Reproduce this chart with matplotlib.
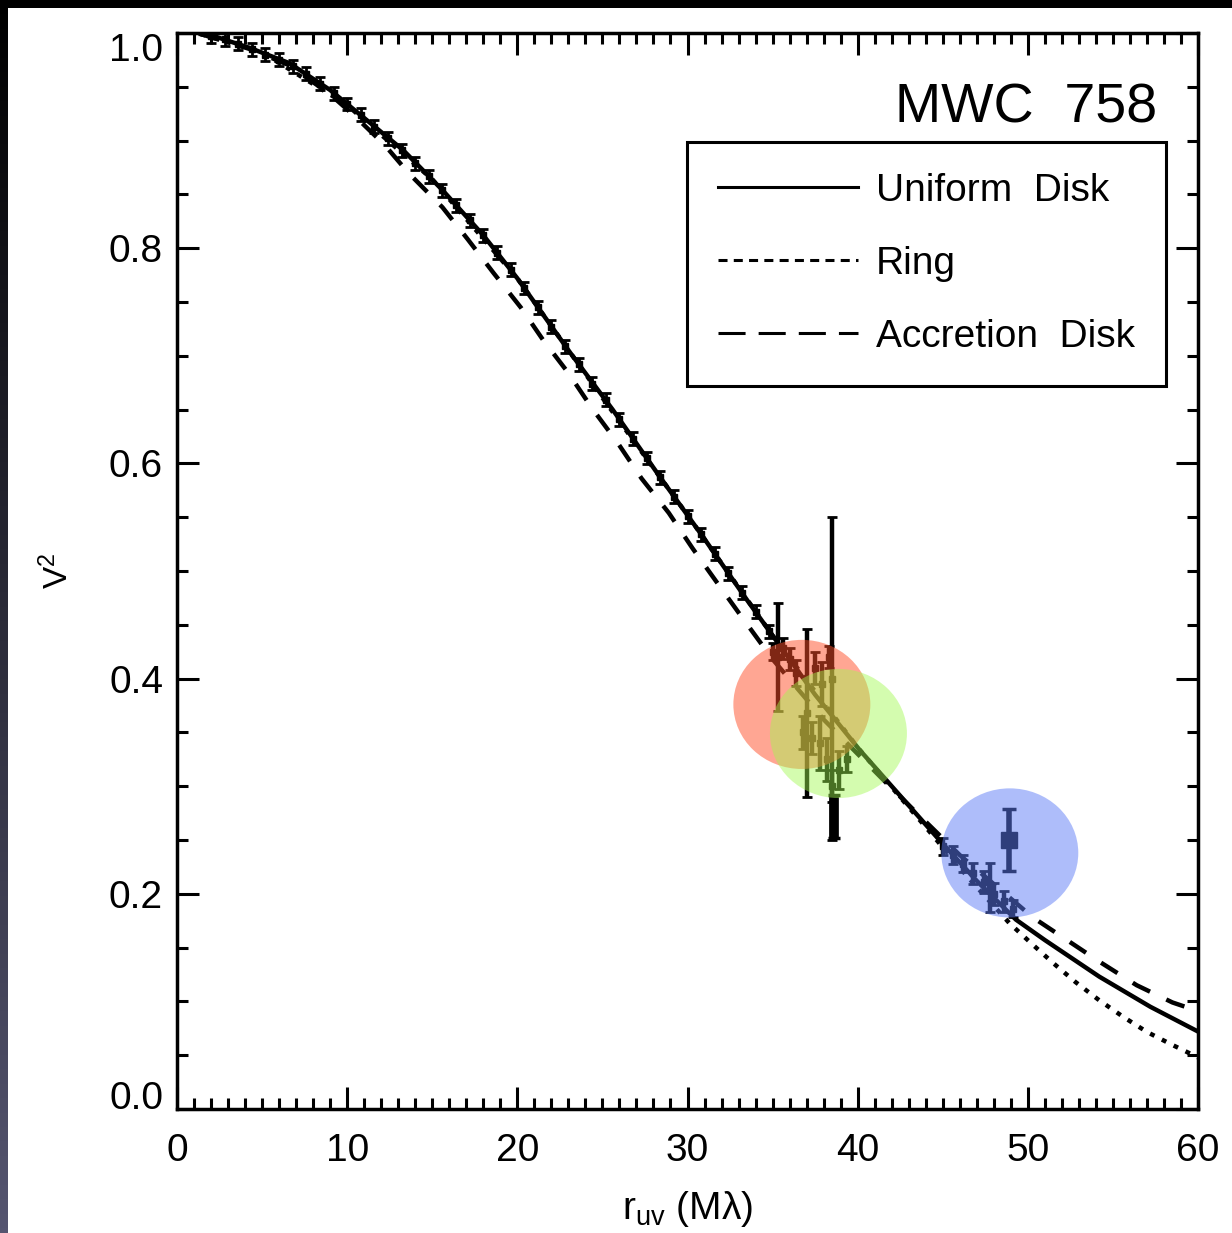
import matplotlib
matplotlib.use('Agg')
import matplotlib.pyplot as plt
from matplotlib.patches import Ellipse, Rectangle
from matplotlib.lines import Line2D
from matplotlib.ticker import MultipleLocator
import numpy as np

plt.rcParams['font.family'] = ['Liberation Sans', 'DejaVu Sans']
plt.rcParams['mathtext.fontset'] = 'custom'
plt.rcParams['mathtext.rm'] = 'Liberation Sans'
plt.rcParams['mathtext.it'] = 'Liberation Sans'
plt.rcParams['lines.scale_dashes'] = False

# model curves: r_uv (Mlambda) vs V^2
ud_r = [1.4, 2.0, 4.3, 6.6, 9.0, 11.0, 13.3, 15.6, 18.0, 20.0, 23.1, 25.6, 28.4,
        30.9, 33.5, 35.0, 37.5, 40.1, 42.0, 44.8, 47.0, 49.3, 51.0, 54.2, 57.2, 60.0]
ud_v2 = [0.999, 0.998, 0.986, 0.972, 0.947, 0.921, 0.891, 0.854, 0.812, 0.772, 0.703, 0.650, 0.587,
         0.532, 0.473, 0.440, 0.385, 0.334, 0.300, 0.250, 0.212, 0.176, 0.157, 0.123, 0.095, 0.072]

ring_r = [1.4, 5.0, 10.0, 15.0, 20.0, 25.0, 30.0, 35.0, 40.0, 44.0, 46.5, 48.9,
          50.2, 51.5, 52.8, 54.2, 55.6, 57.0, 58.5, 60.0]
ring_v2 = [0.999, 0.982, 0.933, 0.864, 0.772, 0.661, 0.552, 0.440, 0.336, 0.262, 0.215, 0.173,
           0.154, 0.1355, 0.118, 0.101, 0.0857, 0.0716, 0.0595, 0.048]

acc_r = [1.4, 4.3, 6.6, 9.0, 10.5, 12.2, 13.6, 15.6, 17.1, 18.6, 20.2, 21.5, 23.0, 24.4,
         25.9, 27.3, 28.9, 30.3, 31.7, 33.2, 35.0, 38.0, 42.0, 46.0, 50.3, 52.3, 54.2,
         56.4, 58.5, 60.0]
acc_v2 = [0.999, 0.985, 0.970, 0.943, 0.922, 0.896, 0.870, 0.838, 0.808, 0.777, 0.745, 0.715,
          0.684, 0.651, 0.619, 0.586, 0.554, 0.521, 0.490, 0.457, 0.418, 0.362, 0.298, 0.236,
          0.178, 0.157, 0.137, 0.115, 0.099, 0.091]

# measured V^2 along the curve (small errors)
obs_r = [2.0, 2.8, 3.6, 4.4, 5.2, 6.0, 6.8, 7.6, 8.4, 9.2, 10.0, 10.8, 11.6, 12.4, 13.2,
         14.0, 14.8, 15.6, 16.4, 17.2, 18.0, 18.8, 19.6, 20.4, 21.2, 22.0, 22.8, 23.6,
         24.4, 25.2, 26.0, 26.8, 27.6, 28.4, 29.2, 30.0, 30.8, 31.6, 32.4, 33.2, 34.0, 34.8]
obs_v2 = [0.997, 0.994, 0.990, 0.985, 0.980, 0.975, 0.969, 0.962, 0.953, 0.944, 0.934, 0.924,
          0.913, 0.902, 0.891, 0.879, 0.867, 0.854, 0.840, 0.826, 0.812, 0.796, 0.780, 0.763,
          0.745, 0.727, 0.709, 0.692, 0.674, 0.659, 0.641, 0.623, 0.605, 0.587, 0.569, 0.551,
          0.534, 0.516, 0.498, 0.480, 0.462, 0.444]
obs_err = [0.006] * len(obs_r)

# noisier points around 35-39 and 45-49 Mlambda
nz_r = [35.0, 35.3, 35.6, 36.0, 36.4, 37.0, 37.5, 37.9, 38.3, 36.8, 37.3, 37.8, 38.2, 38.5,
        38.9, 39.4, 38.5, 45.0, 45.6, 46.2, 46.8, 47.4, 47.8, 48.0, 48.6, 49.1]
nz_v2 = [0.425, 0.420, 0.428, 0.418, 0.405, 0.368, 0.410, 0.395, 0.420, 0.350, 0.345, 0.340,
         0.325, 0.400, 0.315, 0.325, 0.300, 0.244, 0.236, 0.228, 0.219, 0.211, 0.206,
         0.200, 0.193, 0.186]
nz_err = [0.008, 0.050, 0.010, 0.010, 0.012, 0.078, 0.015, 0.020, 0.010, 0.015, 0.015, 0.025,
          0.020, 0.150, 0.018, 0.012, 0.015, 0.008, 0.008, 0.008, 0.010, 0.010, 0.023,
          0.010, 0.010, 0.008]

# heavier points (thick blobs)
big_r = [48.9]
big_v2 = [0.250]
big_err = [0.029]
thick_r = [38.6]
thick_v2 = [0.272]
thick_err = [0.020]

# highlight circles (centre r, centre V^2, colour)
hl_r = [36.72, 38.87, 48.94]
hl_v2 = [0.376, 0.349, 0.238]
hl_colors = [(1.0, 0.31, 0.16), (0.63, 0.98, 0.31), (0.37, 0.49, 0.97)]
hl_alpha = [0.5, 0.45, 0.5]

legend_labels = ['Uniform  Disk', 'Ring', 'Accretion  Disk']

fig = plt.figure(figsize=(12.32, 12.33), dpi=100, facecolor='white')
ax = fig.add_axes([177 / 1232, 1 - 1109 / 1233, 1021 / 1232, 1076 / 1233])

ax.plot(ud_r, ud_v2, color='k', lw=3.2, zorder=2)
ax.plot(ring_r, ring_v2, color='k', lw=3.2, dashes=(3.5, 6), zorder=2)
ax.plot(acc_r, acc_v2, color='k', lw=3.2, dashes=(14, 13), zorder=2)

ax.errorbar(obs_r, obs_v2, yerr=obs_err, fmt='s', color='k', ms=4, elinewidth=2,
            capsize=3.5, capthick=2, zorder=3)
ax.errorbar(nz_r, nz_v2, yerr=nz_err, fmt='s', color='k', ms=4, elinewidth=3.2,
            capsize=3.5, capthick=2, zorder=3)
ax.errorbar(big_r, big_v2, yerr=big_err, fmt='s', color='k', ms=11, elinewidth=4,
            capsize=5, capthick=2.5, zorder=3)
ax.errorbar(thick_r, thick_v2, yerr=thick_err, fmt='none', ecolor='k', elinewidth=7,
            capsize=4, capthick=2.5, zorder=3)

for cx, cy, c, a in zip(hl_r, hl_v2, hl_colors, hl_alpha):
    ax.add_patch(Ellipse((cx, cy), width=8.05, height=0.12, facecolor=c, edgecolor='none',
                         alpha=a, zorder=4))

ax.set_xlim(0, 60)
ax.set_ylim(0, 1.0)
ax.set_xticks(np.arange(0, 61, 10))
ax.set_xticklabels([str(v) for v in range(0, 61, 10)])
ax.set_yticks(np.arange(0, 1.01, 0.2))
ax.set_yticklabels(['%.1f' % v for v in np.arange(0, 1.01, 0.2)])
ax.xaxis.set_minor_locator(MultipleLocator(1))
ax.yaxis.set_minor_locator(MultipleLocator(0.05))
ax.tick_params(which='both', direction='in', top=True, right=True, width=2.2, color='k')
ax.tick_params(which='major', length=16)
ax.tick_params(which='minor', length=8)
ax.tick_params(axis='x', labelsize=28, pad=17)
ax.tick_params(axis='y', labelsize=28, pad=10)
for s in ax.spines.values():
    s.set_linewidth(2.5)

ylabs = ax.get_yticklabels()
ylabs[0].set_va('baseline')
ylabs[-1].set_va('top')

ax.set_xlabel(r'r$_{\mathrm{uv}}$ (Mλ)', fontsize=28)
ax.xaxis.set_label_coords(0.5, -0.074)
ax.xaxis.label.set_va('top')
ax.set_ylabel(r'V$^{2}$', fontsize=24)
ax.yaxis.set_label_coords(-0.1, 0.5)

ax.text(0.9598, 0.9164, 'MWC  758', transform=ax.transAxes, ha='right', va='baseline',
        fontsize=40)

handles = [Line2D([], [], color='k', lw=2.2),
           Line2D([], [], color='k', lw=2.2, dashes=(6.5, 4.5)),
           Line2D([], [], color='k', lw=2.2, dashes=(19.5, 9.4))]
leg = ax.legend(handles, legend_labels, loc='upper left', bbox_to_anchor=(0.4995, 0.8987),
                borderaxespad=0, fontsize=28, frameon=True, fancybox=False, edgecolor='k',
                framealpha=1, handlelength=3.6, handletextpad=0.45, labelspacing=0.95,
                borderpad=0.8)
leg.get_frame().set_linewidth(2.2)

# dark frame of the screenshot
fig.add_artist(Rectangle((0, 1 - 8 / 1233), 1, 8 / 1233, transform=fig.transFigure,
                         facecolor='black', edgecolor='none', zorder=10))
strip = fig.add_axes([0, 0, 8 / 1232, 1])
grad = np.linspace(0, 1, 256)[:, None, None] * np.array([85, 85, 112])[None, None, :] / 255
strip.imshow(grad, aspect='auto')
strip.axis('off')

fig.savefig('out.png', dpi=100)
